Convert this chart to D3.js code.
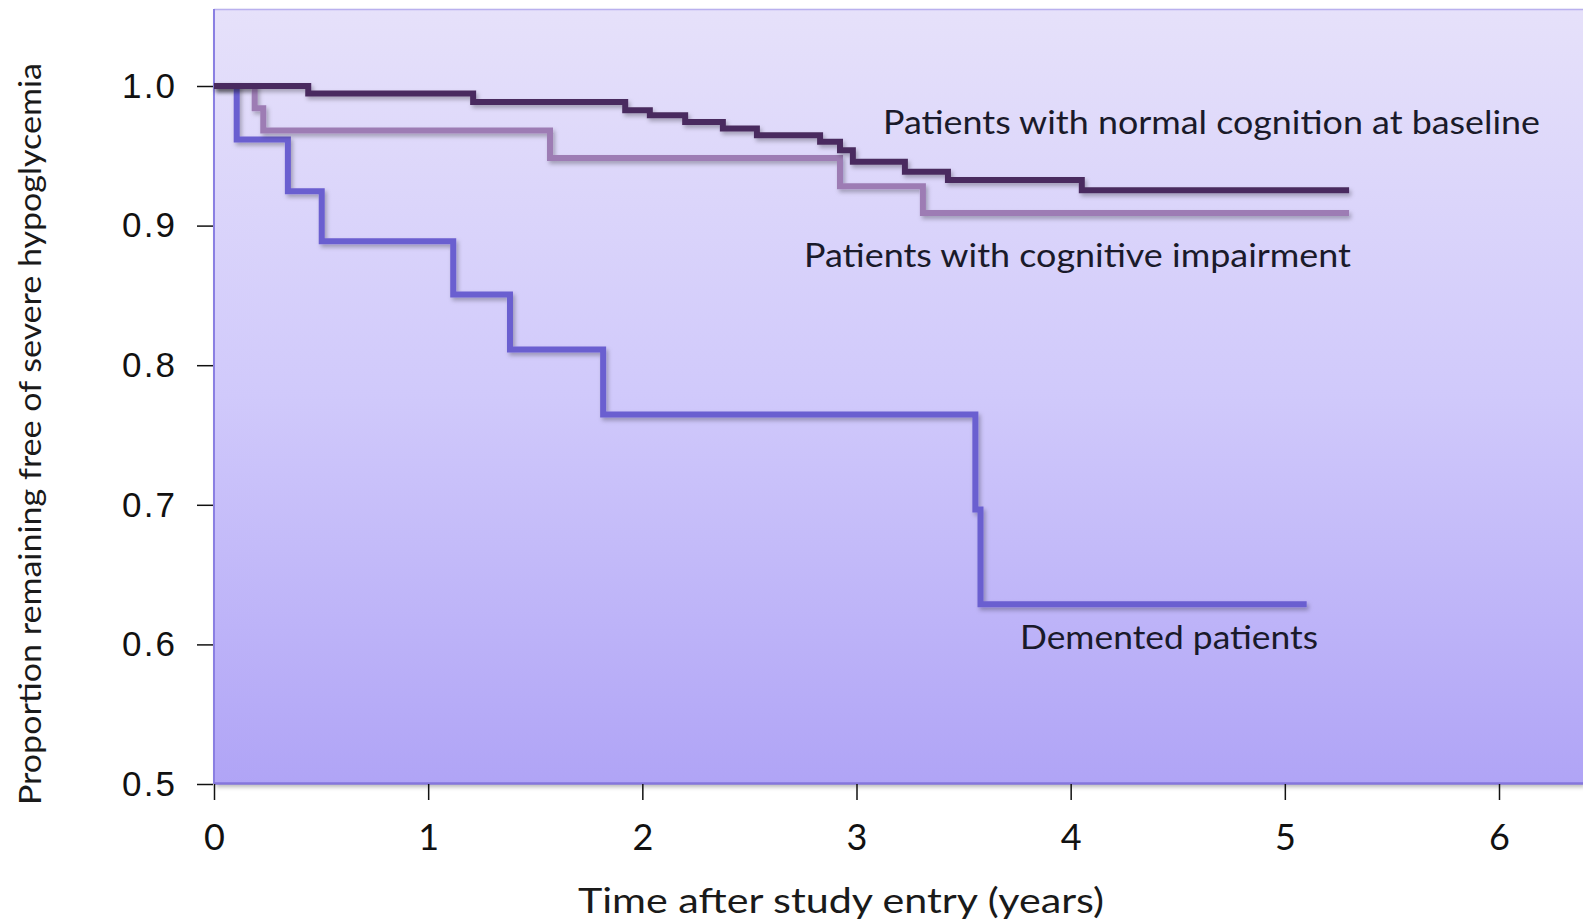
<!DOCTYPE html>
<html>
<head>
<meta charset="utf-8">
<script src="https://cdn.jsdelivr.net/npm/d3@7"></script>
<style>
  body { margin: 0; background: #fff; }
  svg { display: block; }
</style>
</head>
<body>
<svg id="chart" width="1583" height="923"></svg>
<script>
const width = 1583;
const height = 923;

// survival steps: [time in years, proportion]
const normalTimes = [0, 0.44, 1.21, 1.92, 2.035, 2.2, 2.376, 2.535, 2.83, 2.923, 2.983, 3.226, 3.427, 4.052, 5.3];
const normalValues = [1.0, 0.9946, 0.9886, 0.9827, 0.9791, 0.9743, 0.9696, 0.9648, 0.96, 0.954, 0.9457, 0.9385, 0.9326, 0.9254, 0.9254];

const impairedTimes = [0, 0.19, 0.23, 1.569, 2.923, 3.31, 5.3];
const impairedValues = [1.0, 0.984, 0.9682, 0.9485, 0.9281, 0.9091, 0.9091];

const dementedTimes = [0, 0.106, 0.345, 0.503, 1.117, 1.382, 1.817, 3.555, 3.579, 5.102];
const dementedValues = [1.0, 0.9616, 0.9246, 0.8888, 0.8506, 0.8112, 0.7647, 0.6967, 0.6287, 0.6287];

const xTicks = [0, 1, 2, 3, 4, 5, 6];
const yTicks = [0.5, 0.6, 0.7, 0.8, 0.9, 1.0];

const seriesNames = [
  "Patients with normal cognition at baseline",
  "Patients with cognitive impairment",
  "Demented patients"
];
const seriesColors = ["#4a2c5e", "#9d7cb4", "#6b5ed0"];

const x = d3.scaleLinear().domain([0, 6]).range([214, 1499]);
const y = d3.scaleLinear().domain([0.5, 1.0]).range([784, 86]);

const svg = d3.select("#chart");
const defs = svg.append("defs");

const grad = defs.append("linearGradient")
  .attr("id", "bg").attr("x1", 0).attr("y1", 0).attr("x2", 0).attr("y2", 1);
grad.append("stop").attr("offset", "0%").attr("stop-color", "#e6e1fa");
grad.append("stop").attr("offset", "50%").attr("stop-color", "#d0c9fb");
grad.append("stop").attr("offset", "100%").attr("stop-color", "#b0a4f6");

const shadow = defs.append("filter").attr("id", "shadow")
  .attr("x", "-5%").attr("y", "-5%").attr("width", "110%").attr("height", "120%");
shadow.append("feDropShadow")
  .attr("dx", 2).attr("dy", 3).attr("stdDeviation", 2)
  .attr("flood-color", "#000").attr("flood-opacity", 0.28);

// plot area
svg.append("rect")
  .attr("x", 214).attr("y", 9)
  .attr("width", width - 214).attr("height", 784 - 9)
  .attr("fill", "url(#bg)")
  .attr("filter", "url(#shadow)");
svg.append("line")
  .attr("x1", 214).attr("x2", width).attr("y1", 9.5).attr("y2", 9.5)
  .attr("stroke", "#b9b0ee").attr("stroke-width", 1.5);
svg.append("line")
  .attr("x1", 214).attr("x2", 214).attr("y1", 9).attr("y2", 784)
  .attr("stroke", "#8a7fe2").attr("stroke-width", 2);
svg.append("line")
  .attr("x1", 214).attr("x2", width).attr("y1", 783.5).attr("y2", 783.5)
  .attr("stroke", "#8576dc").attr("stroke-width", 2.5);

// axes
const yAxis = d3.axisLeft(y).tickValues(yTicks).tickSize(16).tickPadding(22)
  .tickFormat(d3.format(".1f"));
const gy = svg.append("g").attr("transform", "translate(213,0)").call(yAxis);
gy.select(".domain").remove();
gy.selectAll(".tick line").attr("stroke", "#111").attr("stroke-width", 1.5);
gy.selectAll(".tick text")
  .attr("font-family", "'Liberation Sans', Arial, sans-serif")
  .attr("font-size", 35)
  .attr("fill", "#111")
  .attr("textLength", 53)
  .attr("lengthAdjust", "spacing");

const xAxis = d3.axisBottom(x).tickValues(xTicks).tickSize(16).tickPadding(24)
  .tickFormat(d3.format("d"));
const gx = svg.append("g").attr("transform", "translate(0,784)").call(xAxis);
gx.select(".domain").remove();
gx.selectAll(".tick line").attr("stroke", "#111").attr("stroke-width", 1.5);
gx.selectAll(".tick text")
  .attr("font-family", "Lato, 'Open Sans', sans-serif")
  .attr("font-size", 36)
  .attr("fill", "#111");

// curves
const series = [
  { times: normalTimes, values: normalValues },
  { times: impairedTimes, values: impairedValues },
  { times: dementedTimes, values: dementedValues }
];
const line = d3.line()
  .x(d => x(d[0]))
  .y(d => y(d[1]))
  .curve(d3.curveStepAfter);

svg.append("g").selectAll("path")
  .data(series.slice().reverse())
  .join("path")
  .attr("d", s => line(s.times.map((t, i) => [t, s.values[i]])))
  .attr("fill", "none")
  .attr("stroke", (s, i) => seriesColors[2 - i])
  .attr("stroke-width", 6)
  .attr("filter", "url(#shadow)");

// curve labels
const labelFont = "Lato, 'Open Sans', sans-serif";
const labels = [
  { text: seriesNames[0], x: 883, y: 123, len: 657 },
  { text: seriesNames[1], x: 804, y: 256, len: 547 },
  { text: seriesNames[2], x: 1020, y: 638, len: 298 }
];
svg.append("g").selectAll("text")
  .data(labels)
  .join("text")
  .attr("x", d => d.x)
  .attr("y", d => d.y)
  .attr("dy", "0.35em")
  .attr("font-family", labelFont)
  .attr("font-size", 32)
  .attr("fill", "#1a1a2a")
  .attr("textLength", d => d.len)
  .attr("lengthAdjust", "spacingAndGlyphs")
  .text(d => d.text);

// axis titles
svg.append("text")
  .attr("x", 841).attr("y", 901).attr("dy", "0.35em")
  .attr("text-anchor", "middle")
  .attr("font-family", labelFont)
  .attr("font-size", 35)
  .attr("fill", "#1a1a1a")
  .attr("textLength", 526)
  .attr("lengthAdjust", "spacingAndGlyphs")
  .text("Time after study entry (years)");

svg.append("text")
  .attr("transform", "translate(30,434) rotate(-90)")
  .attr("dy", "0.35em")
  .attr("text-anchor", "middle")
  .attr("font-family", labelFont)
  .attr("font-size", 31)
  .attr("fill", "#1a1a1a")
  .attr("textLength", 742)
  .attr("lengthAdjust", "spacingAndGlyphs")
  .text("Proportion remaining free of severe hypoglycemia");
</script>
</body>
</html>
